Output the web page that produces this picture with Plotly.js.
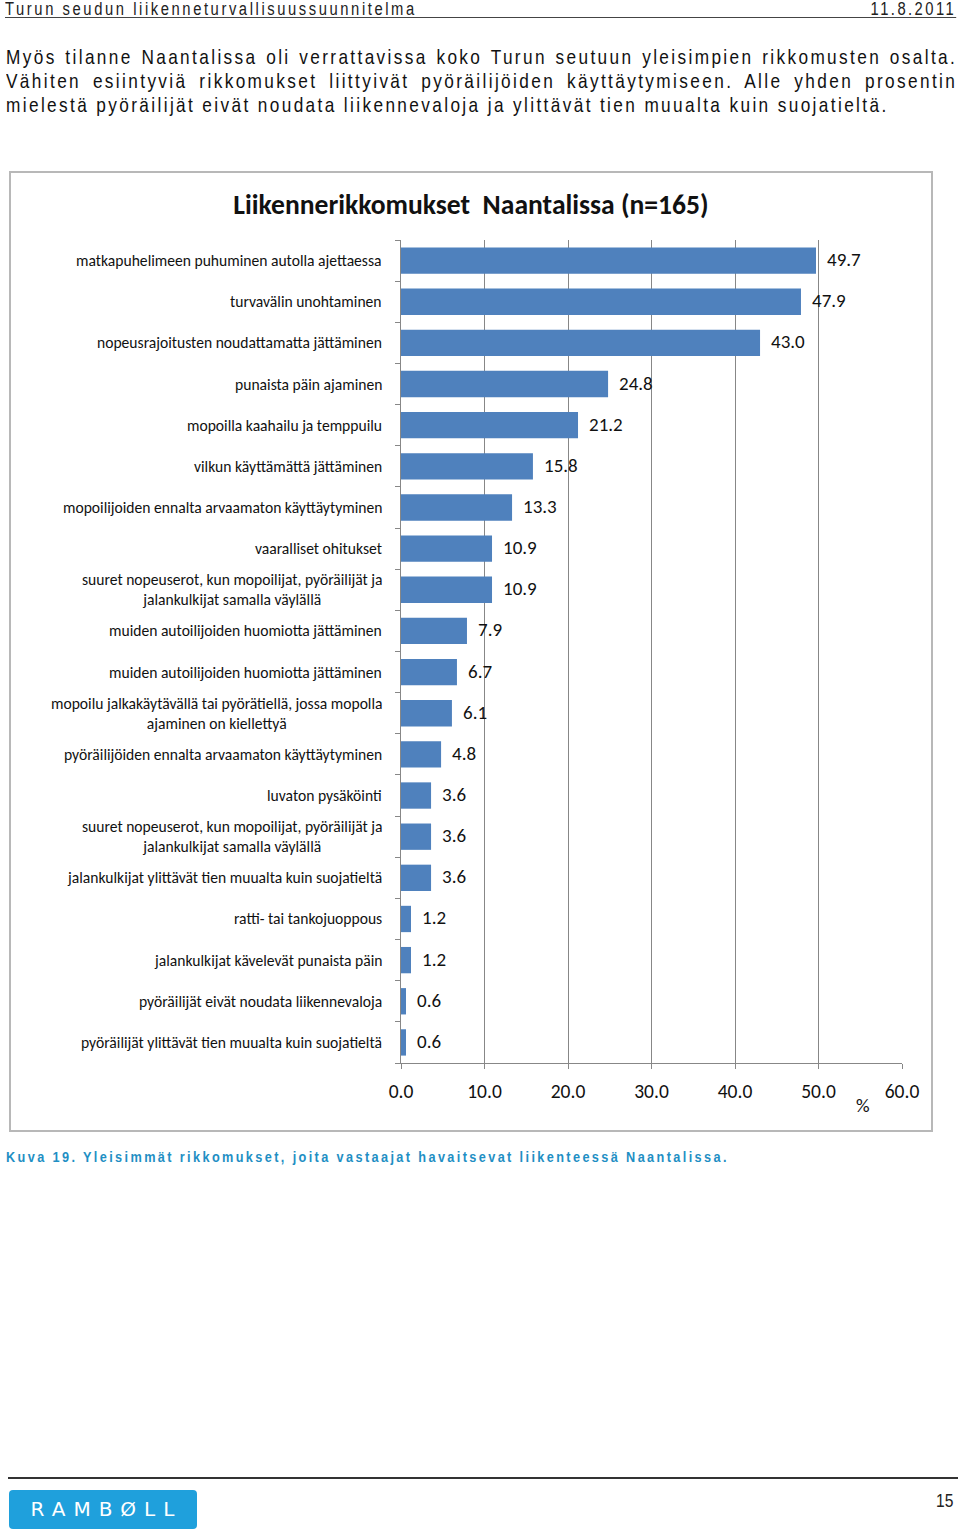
<!DOCTYPE html>
<html>
<head>
<meta charset="utf-8">
<script src="https://cdn.plot.ly/plotly-3.0.1.min.js"></script>
<style>
  html, body { margin: 0; padding: 0; background: #ffffff; }
  body { width: 960px; height: 1536px; position: relative; overflow: hidden; }
  .narrow { font-family: "Liberation Sans", Arial, sans-serif; transform-origin: 0 0; transform: scaleX(0.82); }
  .hdr { position: absolute; top: 1px; left: 5px; width: 1160px; height: 16px; border-bottom: 1px solid #444;
         font-size: 18px; letter-spacing: 3.15px; color: #222; line-height: 16px; }
  .hdr .r { position: absolute; right: 0; top: 0; letter-spacing: 3.0px; }
  .para { position: absolute; top: 45px; left: 6px; width: 1160px; text-align: justify;
          font-size: 21px; line-height: 24px; letter-spacing: 2.9px; color: #111; }
  .box { position: absolute; left: 9px; top: 171px; width: 920px; height: 957px; border: 2px solid #b8b8b8; }
  #chart { position: absolute; left: 0; top: 0; width: 920px; height: 957px; }
  .cap { position: absolute; left: 6px; top: 1148px; white-space: nowrap;
         font-weight: bold; font-size: 15.5px; letter-spacing: 2.9px; color: #1f8fc4; }
  .fline { position: absolute; left: 8px; top: 1477px; width: 950px; height: 2px; background: #333; }
  .logo { position: absolute; left: 9px; top: 1490px; width: 188px; height: 39px; background: #1fa0dc; border-radius: 4px;
          color: #fff; font-family: "DejaVu Sans", sans-serif; font-size: 20px; letter-spacing: 8px; line-height: 39px; text-align: center; text-indent: 7px; }
  .pnum { position: absolute; left: 936px; top: 1490px; font-size: 19px; color: #222; }
</style>
</head>
<body>
<div class="hdr narrow"><span>Turun seudun liikenneturvallisuussuunnitelma</span><span class="r">11.8.2011</span></div>
<div class="para narrow">Myös tilanne Naantalissa oli verrattavissa koko Turun seutuun yleisimpien rikkomusten osalta. Vähiten esiintyviä rikkomukset liittyivät pyöräilijöiden käyttäytymiseen. Alle yhden prosentin mielestä pyöräilijät eivät noudata liikennevaloja ja ylittävät tien muualta kuin suojatieltä.</div>
<div class="box"><div id="chart"></div></div>
<div class="cap narrow">Kuva 19. Yleisimmät rikkomukset, joita vastaajat havaitsevat liikenteessä Naantalissa.</div>
<div class="fline"></div>
<div class="logo">RAMBØLL</div>
<div class="pnum narrow">15</div>
<script>
const chartTitle = "Liikennerikkomukset  Naantalissa (n=165)";
const categories = [
  "matkapuhelimeen puhuminen autolla ajettaessa",
  "turvavälin unohtaminen",
  "nopeusrajoitusten noudattamatta jättäminen",
  "punaista päin ajaminen",
  "mopoilla kaahailu ja temppuilu",
  "vilkun käyttämättä jättäminen",
  "mopoilijoiden ennalta arvaamaton käyttäytyminen",
  "vaaralliset ohitukset",
  "suuret nopeuserot, kun mopoilijat, pyöräilijät ja<br>jalankulkijat samalla väylällä",
  "muiden autoilijoiden huomiotta jättäminen",
  "muiden autoilijoiden huomiotta jättäminen",
  "mopoilu jalkakäytävällä tai pyörätiellä, jossa mopolla<br>ajaminen on kiellettyä",
  "pyöräilijöiden ennalta arvaamaton käyttäytyminen",
  "luvaton pysäköinti",
  "suuret nopeuserot, kun mopoilijat, pyöräilijät ja<br>jalankulkijat samalla väylällä",
  "jalankulkijat ylittävät tien muualta kuin suojatieltä",
  "ratti- tai tankojuoppous",
  "jalankulkijat kävelevät punaista päin",
  "pyöräilijät eivät noudata liikennevaloja",
  "pyöräilijät ylittävät tien muualta kuin suojatieltä"
];
const values = [49.7, 47.9, 43.0, 24.8, 21.2, 15.8, 13.3, 10.9, 10.9, 7.9, 6.7, 6.1, 4.8, 3.6, 3.6, 3.6, 1.2, 1.2, 0.6, 0.6];
const xTicks = [0, 10, 20, 30, 40, 50, 60];
const unitLabel = "%";

const idx = categories.map((_, i) => i);
const boundaries = categories.map((_, i) => i - 0.5).concat([categories.length - 0.5]);
const FONT = "Carlito, Lato, 'Open Sans', sans-serif";
const GRID = "#878787";

const annotations = [];
categories.forEach((c, i) => {
  annotations.push({ xref: "paper", yref: "y", x: 0, y: i, text: c, showarrow: false,
    xanchor: "right", yanchor: "middle", align: "center", xshift: -17,
    font: { family: FONT, size: 15.6, color: "#111" } });
  annotations.push({ xref: "x", yref: "y", x: values[i], y: i, text: values[i].toFixed(1), showarrow: false,
    xanchor: "left", yanchor: "middle", xshift: 9, yshift: 1,
    font: { family: FONT, size: 19, color: "#111" } });
});
annotations.push({ xref: "paper", yref: "paper", x: 0.922, y: -0.052, text: unitLabel, showarrow: false,
  xanchor: "center", yanchor: "middle", font: { family: FONT, size: 19, color: "#111" } });

const trace = {
  type: "bar", orientation: "h", x: values, y: idx,
  marker: { color: "#4f81bd" }, width: 0.64, hoverinfo: "none"
};

const layout = {
  width: 920, height: 957,
  margin: { l: 390, r: 29, t: 67, b: 67 },
  paper_bgcolor: "#ffffff", plot_bgcolor: "#ffffff",
  showlegend: false,
  title: { text: chartTitle, xref: "container", yref: "container", x: 0.5, y: 0.967, xanchor: "center", yanchor: "middle",
           font: { family: FONT, size: 27.6, color: "#111", weight: "bold" } },
  xaxis: { range: [0, 60], tickvals: xTicks, tickformat: ".1f", showgrid: true, gridcolor: GRID, gridwidth: 1,
           showline: true, linecolor: GRID, linewidth: 1, ticks: "outside", ticklen: 5, tickcolor: GRID,
           zeroline: false, tickfont: { family: FONT, size: 19.5, color: "#111" }, ticklabelstandoff: 6, fixedrange: true },
  yaxis: { range: [categories.length - 0.5, -0.5], tickvals: boundaries, ticktext: boundaries.map(() => ""),
           showgrid: false, showline: true, linecolor: GRID, linewidth: 1, ticks: "outside", ticklen: 5, tickcolor: GRID,
           zeroline: false, fixedrange: true },
  annotations: annotations
};

Plotly.newPlot("chart", [trace], layout, { staticPlot: true, displayModeBar: false });
</script>
</body>
</html>
